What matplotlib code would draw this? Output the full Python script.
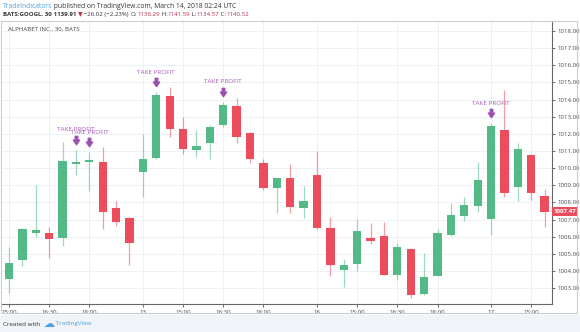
import numpy as np
import matplotlib
matplotlib.use("Agg")
import matplotlib.pyplot as plt
from matplotlib.path import Path
from matplotlib.patches import Rectangle
from matplotlib.transforms import IdentityTransform, offset_copy, blended_transform_factory

plt.rcParams['font.family'] = ['Open Sans', 'DejaVu Sans']

# 30 min bars, GOOGL (BATS)
opens = [1003.56, 1004.65, 1006.22, 1006.20, 1005.91, 1010.23, 1010.36, 1010.38, 1007.66, 1007.08,
         1009.80, 1010.61, 1014.21, 1012.27, 1011.06, 1011.45, 1012.50, 1013.64, 1012.07, 1010.29,
         1008.86, 1009.45, 1007.70, 1009.60, 1006.50, 1004.06, 1004.41, 1005.91, 1006.05, 1003.79,
         1005.27, 1002.66, 1003.73, 1006.10, 1007.21, 1007.81, 1007.02, 1012.23, 1008.89, 1010.77,
         1008.38]
highs = [1005.42, 1006.50, 1009.02, 1006.59, 1011.55, 1011.06, 1010.93, 1011.22, 1008.09, 1007.17,
         1011.99, 1014.43, 1014.75, 1013.00, 1012.23, 1012.52, 1013.88, 1014.11, 1012.10, 1010.52,
         1009.45, 1010.23, 1008.96, 1011.00, 1007.17, 1004.72, 1007.02, 1006.82, 1006.88, 1005.62,
         1005.30, 1005.04, 1006.45, 1007.99, 1008.34, 1010.38, 1012.62, 1014.56, 1011.49, 1010.83,
         1008.77]
lows = [1002.71, 1004.31, 1006.00, 1004.75, 1005.46, 1009.60, 1008.69, 1006.44, 1006.63, 1004.36,
        1008.34, 1010.55, 1011.84, 1010.83, 1010.67, 1010.52, 1012.40, 1011.49, 1010.29, 1008.73,
        1007.37, 1007.40, 1007.11, 1006.45, 1003.71, 1003.09, 1004.02, 1005.56, 1003.75, 1003.48,
        1002.43, 1002.60, 1003.70, 1006.05, 1006.94, 1007.46, 1006.10, 1008.34, 1008.09, 1008.15,
        1006.59]
closes = [1004.49, 1006.45, 1006.38, 1005.87, 1010.40, 1010.36, 1010.48, 1007.46, 1006.88, 1005.66,
          1010.55, 1014.29, 1012.27, 1011.10, 1011.29, 1012.42, 1013.67, 1011.80, 1010.54, 1008.86,
          1009.45, 1007.76, 1008.07, 1006.50, 1004.34, 1004.36, 1006.34, 1005.74, 1003.79, 1005.40,
          1002.61, 1003.67, 1006.24, 1007.27, 1007.85, 1009.31, 1012.48, 1008.54, 1011.10, 1008.54,
          1007.47]
take_profit = [5, 6, 11, 16, 36]

tick_pos = [0, 3, 6, 10, 13, 16, 19, 23, 26, 29, 32, 36, 39]
tick_lbl = ["15:00", "16:30", "18:00", "13", "15:00", "16:30", "18:00", "16",
            "15:00", "16:30", "18:00", "17", "15:00"]
price_ticks = list(range(1003, 1019))

GREEN = "#53b987"
RED = "#eb4d5c"
PURPLE = "#9c4fb0"

o = np.array(opens); h = np.array(highs); l = np.array(lows); c = np.array(closes)
x = np.arange(len(o))
up = c >= o
cols = np.where(up, GREEN, RED)

fig = plt.figure(figsize=(5.8, 3.32), dpi=100, facecolor="white")
ax = fig.add_axes([2/580, 28/332, 550/580, 283/332])

ax.vlines(x, l, h, colors=cols, linewidth=0.9, alpha=0.55, zorder=2)
body_lo = np.minimum(o, c)
body_h = np.maximum(np.abs(c - o), 0.12)
ax.bar(x, body_h, bottom=body_lo, width=0.62, color=cols, linewidth=0, zorder=3)

# take profit markers
arrow = Path([(-0.3, 1), (0.3, 1), (0.3, 0.1), (0.75, 0.1), (0, -1), (-0.75, 0.1), (-0.3, 0.1), (-0.3, 1)],
             [Path.MOVETO] + [Path.LINETO] * 6 + [Path.CLOSEPOLY])
tp = np.array(take_profit)
ax.plot(tp, h[tp], linestyle="none", marker=arrow, markersize=6, color=PURPLE,
        transform=offset_copy(ax.transData, fig, y=7.2, units="points"), zorder=4)
for i in take_profit:
    ax.annotate("TAKE PROFIT", (i, h[i]), xytext=(0, 14.5), textcoords="offset points",
                ha="center", va="center", fontsize=4.6, color="#a660b8")

ax.set_xlim(-0.52, 40.55)
ax.set_ylim(1002.08, 1018.58)
ax.set_xticks(tick_pos)
ax.set_xticklabels(tick_lbl)
ax.set_yticks(price_ticks)
ax.set_yticklabels([f"{p:.2f}" for p in price_ticks])
ax.yaxis.tick_right()
ax.tick_params(axis="both", labelsize=4.4, colors="#555555", length=2.5, width=0.6, pad=1.5,
               labelcolor="#4a4a4a")
ax.grid(True, color="#edf0f4", linewidth=0.7)
ax.set_axisbelow(True)
for s in ["top", "left"]:
    ax.spines[s].set_visible(False)
for s in ["right", "bottom"]:
    ax.spines[s].set_color("#666666")
    ax.spines[s].set_linewidth(0.8)

# last price tag
ax.text(1.003, c[-1], f"{c[-1]:.2f}", transform=blended_transform_factory(ax.transAxes, ax.transData),
        ha="left", va="center", fontsize=4.4, color="white", fontweight="bold",
        bbox=dict(boxstyle="square,pad=0.3", facecolor=RED, edgecolor="none"), clip_on=False)

ax.text(8, 302.5, "ALPHABET INC., 30, BATS", transform=IdentityTransform(), fontsize=4.4,
        color="#444444", va="center")

# frame and footer
fig.patches.append(Rectangle((1, 19), 576, 292, transform=IdentityTransform(), fill=False,
                             edgecolor="#c9ccd1", linewidth=0.8))
fig.patches.append(Rectangle((0, 0), 580, 17, transform=IdentityTransform(), facecolor="#f0f3f7",
                             edgecolor="none", zorder=-1))


def rich(xpos, ypos, parts):
    r = fig.canvas.get_renderer()
    for s, col, wt, size in parts:
        t = fig.text(xpos, ypos, s, transform=IdentityTransform(), color=col, fontsize=size,
                     fontweight=wt, va="center", ha="left")
        xpos += t.get_window_extent(renderer=r).width


DARK = "#333333"
VAL = "#b5334a"
rich(3, 326, [("TradeIndicators", "#4aa3df", "normal", 4.85),
              (" published on TradingView.com, March 14, 2018 02:24 UTC", DARK, "normal", 4.85)])
rich(3, 317.5, [("BATS:GOOGL, 30", DARK, "bold", 4.4), (" 1139.91 ", DARK, "bold", 4.4),
                ("\u25bc", "#c0283c", "normal", 4.4), (" \u221226.02 (\u22122.23%) ", DARK, "normal", 4.4),
                ("O:", DARK, "normal", 4.4), ("1136.29", VAL, "normal", 4.4),
                (" H:", DARK, "normal", 4.4), ("1141.59", VAL, "normal", 4.4),
                (" L:", DARK, "normal", 4.4), ("1134.57", VAL, "normal", 4.4),
                (" C:", DARK, "normal", 4.4), ("1140.52", VAL, "normal", 4.4)])
rich(3, 8, [("Created with  ", DARK, "normal", 4.5), ("\u2601", "#4aa3df", "normal", 8),
            (" TradingView", "#4aa3df", "normal", 4.5)])

fig.savefig("out.png", dpi=100, facecolor="white")
